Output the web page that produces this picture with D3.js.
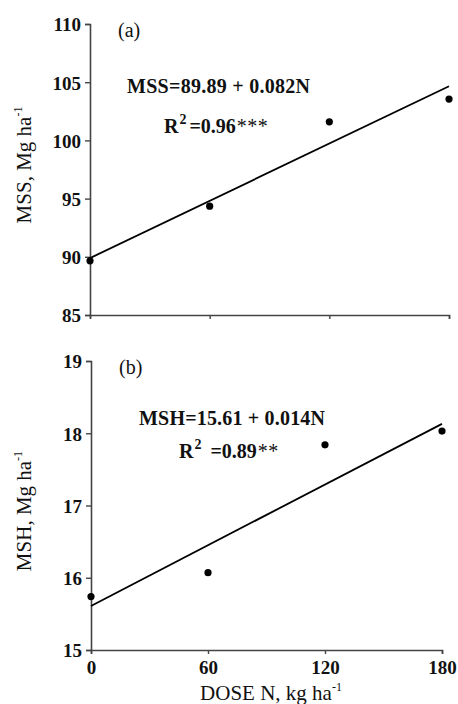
<!DOCTYPE html>
<html><head><meta charset="utf-8">
<script src="https://cdn.jsdelivr.net/npm/d3@7"></script>
<style>body{margin:0;background:#fff}svg{display:block}text{font-family:"Liberation Serif","Times New Roman",serif;fill:#111}</style>
</head><body>
<script>
const doses = [0, 60, 120, 180];
const mss = [89.65, 94.35, 101.6, 103.55];
const msh = [15.74, 16.07, 17.84, 18.03];
const mssTicks = [85, 90, 95, 100, 105, 110];
const mshTicks = [15, 16, 17, 18, 19];
const doseTicks = [0, 60, 120, 180];
const mssFit = [89.89, 0.082];
const mshFit = [15.61, 0.014];

const svg = d3.select("body").append("svg").attr("width", 458).attr("height", 704);

function panel(o) {
  const x = d3.scaleLinear().domain([0, 180]).range(o.xr);
  const y = d3.scaleLinear().domain(o.yd).range(o.yr);
  const g = svg.append("g");
  const ya = g.append("g").attr("transform", `translate(${o.xr[0]},0)`)
    .call(d3.axisLeft(y).tickValues(o.yTicks).tickSize(5).tickPadding(4).tickFormat(d3.format("d")));
  const xa = g.append("g").attr("transform", `translate(0,${o.yr[0]})`)
    .call(d3.axisBottom(x).tickValues(doseTicks).tickSize(4).tickPadding(6)
      .tickFormat(o.xLabels ? d3.format("d") : ""));
  [ya, xa].forEach(a => {
    a.select(".domain").attr("stroke", "#444").attr("stroke-width", 1.6);
    a.selectAll(".tick line").attr("stroke", "#444").attr("stroke-width", 1.4);
    a.selectAll("text").attr("font-family", '"Liberation Serif",serif').attr("font-weight", "bold")
      .attr("font-size", 19).attr("fill", "#111");
  });
  ya.selectAll(".tick text").attr("dy", "0.36em");
  xa.selectAll(".tick text").attr("dy", "0.76em");
  g.append("line")
    .attr("x1", x(0)).attr("y1", y(o.fit[0]))
    .attr("x2", x(180)).attr("y2", y(o.fit[0] + o.fit[1] * 180))
    .attr("stroke", "#000").attr("stroke-width", 1.8);
  g.selectAll("circle").data(doses).join("circle")
    .attr("cx", d => x(d)).attr("cy", (d, i) => y(o.vals[i])).attr("r", 3.6).attr("fill", "#000");
  g.append("text").attr("x", o.xr[0] + 28).attr("y", o.yr[1] + 13).attr("font-size", 20).text(o.label);
  const yt = g.append("text").attr("transform", `translate(${o.ytx},${o.yty}) rotate(-90)`)
    .attr("text-anchor", "middle").attr("font-size", 21);
  yt.append("tspan").text(o.yname + ", Mg ha");
  yt.append("tspan").attr("font-size", 12).attr("dy", -9).text("-1");
  const eq = g.append("text").attr("x", o.eq[0]).attr("y", o.eq[1]).attr("font-size", 20)
    .attr("font-weight", "bold").attr("textLength", o.eq[2]).attr("lengthAdjust", "spacing");
  eq.text(o.eqText);
  const r = g.append("text").attr("x", o.r2[0]).attr("y", o.r2[1]).attr("font-size", 20)
    .attr("font-weight", "bold");
  r.append("tspan").text("R");
  r.append("tspan").attr("font-size", 14).attr("dy", -9).attr("dx", o.r2[3]).text("2");
  r.append("tspan").attr("dy", 9).attr("dx", o.r2[4]).text("=" + o.r2[2]);
  r.append("tspan").attr("font-weight", "normal").attr("dx", 1).attr("font-size", 20).attr("letter-spacing", 0.5).text(o.stars);
  return {x, y};
}

panel({
  xr: [90, 449], yd: [85, 110], yr: [315, 24], yTicks: mssTicks, vals: mss, fit: mssFit,
  xLabels: false, label: "(a)", yname: "MSS", ytx: 31, yty: 165,
  eq: [127, 93, 183], eqText: "MSS=89.89 + 0.082N",
  r2: [164, 133, "0.96", 1, 3], stars: "***"
});
panel({
  xr: [91, 442], yd: [15, 19], yr: [650, 361], yTicks: mshTicks, vals: msh, fit: mshFit,
  xLabels: true, label: "(b)", yname: "MSH", ytx: 31, yty: 511,
  eq: [139, 425, 186], eqText: "MSH=15.61 + 0.014N",
  r2: [179, 458, "0.89", 1, 9], stars: "**"
});

const xt = svg.append("text").attr("x", 271).attr("y", 700).attr("text-anchor", "middle").attr("font-size", 21);
xt.append("tspan").text("DOSE N, kg ha");
xt.append("tspan").attr("font-size", 12).attr("dy", -9).text("-1");
</script>
</body></html>
